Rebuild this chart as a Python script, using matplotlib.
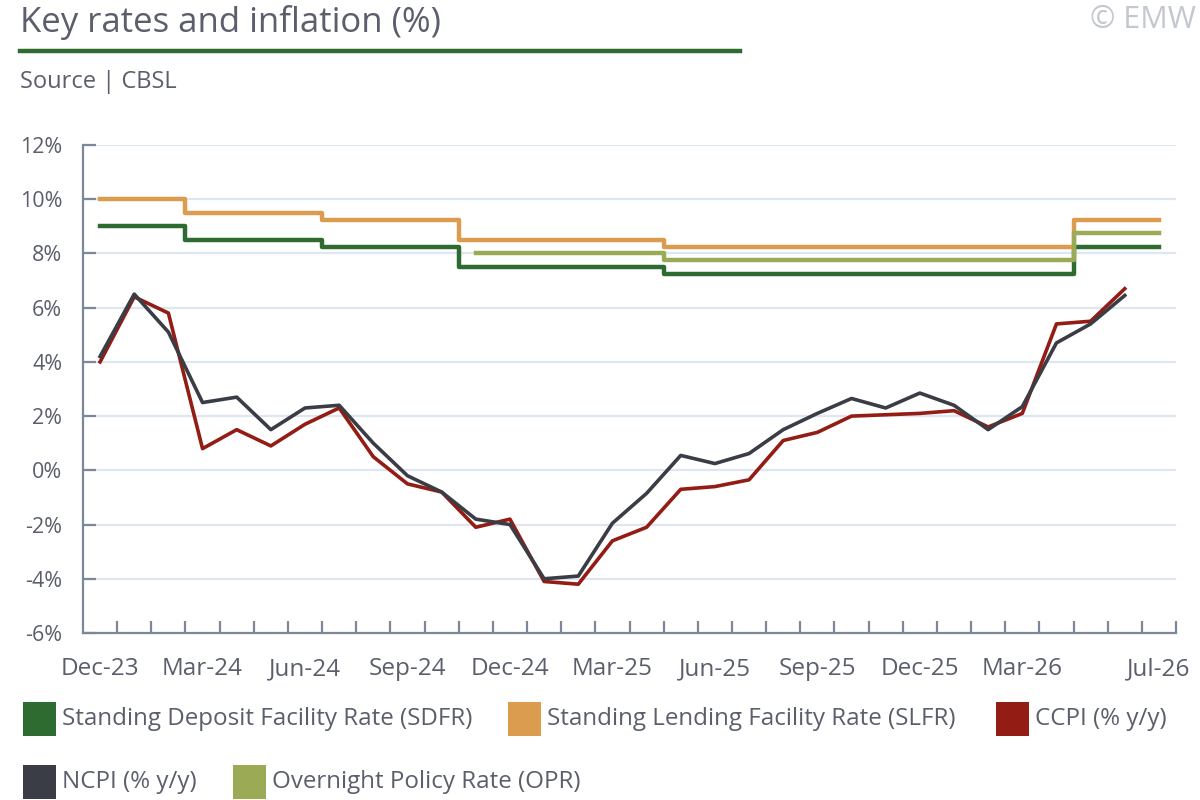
import numpy as np
import matplotlib
matplotlib.use("Agg")
import matplotlib.pyplot as plt
from matplotlib.patches import Rectangle
from matplotlib.lines import Line2D

plt.rcParams['font.family'] = ['Open Sans', 'DejaVu Sans']

# data (monthly, Dec-23 .. Jul-26)
months = ["Dec-23", "Jan-24", "Feb-24", "Mar-24", "Apr-24", "May-24", "Jun-24", "Jul-24",
          "Aug-24", "Sep-24", "Oct-24", "Nov-24", "Dec-24", "Jan-25", "Feb-25", "Mar-25",
          "Apr-25", "May-25", "Jun-25", "Jul-25", "Aug-25", "Sep-25", "Oct-25", "Nov-25",
          "Dec-25", "Jan-26", "Feb-26", "Mar-26", "Apr-26", "May-26", "Jun-26", "Jul-26"]
labels_shown = ["Dec-23", "Mar-24", "Jun-24", "Sep-24", "Dec-24", "Mar-25", "Jun-25",
                "Sep-25", "Dec-25", "Mar-26", "Jul-26"]

sdfr = [9.0, 9.0, 9.0, 8.5, 8.5, 8.5, 8.5, 8.25, 8.25, 8.25, 8.25, 7.5, 7.5, 7.5, 7.5, 7.5,
        7.5, 7.25, 7.25, 7.25, 7.25, 7.25, 7.25, 7.25, 7.25, 7.25, 7.25, 7.25, 7.25, 8.25, 8.25, 8.25]
slfr = [10.0, 10.0, 10.0, 9.5, 9.5, 9.5, 9.5, 9.25, 9.25, 9.25, 9.25, 8.5, 8.5, 8.5, 8.5, 8.5,
        8.5, 8.25, 8.25, 8.25, 8.25, 8.25, 8.25, 8.25, 8.25, 8.25, 8.25, 8.25, 8.25, 9.25, 9.25, 9.25]
opr = [None] * 11 + [8.0, 8.0, 8.0, 8.0, 8.0, 8.0, 7.75, 7.75, 7.75, 7.75, 7.75, 7.75, 7.75,
                     7.75, 7.75, 7.75, 7.75, 7.75, 8.75, 8.75, 8.75]
ccpi = [4.0, 6.4, 5.8, 0.8, 1.5, 0.9, 1.7, 2.3, 0.5, -0.5, -0.8, -2.1, -1.8, -4.1, -4.2, -2.6,
        -2.1, -0.7, -0.6, -0.35, 1.1, 1.4, 2.0, 2.05, 2.1, 2.2, 1.6, 2.1, 5.4, 5.5, 6.7, None]
ncpi = [4.2, 6.5, 5.1, 2.5, 2.7, 1.5, 2.3, 2.4, 1.0, -0.2, -0.8, -1.8, -2.0, -4.0, -3.9, -1.95,
        -0.85, 0.55, 0.25, 0.62, 1.5, 2.1, 2.65, 2.3, 2.85, 2.4, 1.5, 2.35, 4.7, 5.4, 6.45, None]

c_sdfr = "#2e6b30"
c_slfr = "#dc9c50"
c_ccpi = "#931d15"
c_ncpi = "#3a3d45"
c_opr = "#9aaa55"
c_text = "#5a5f6b"
c_axis = "#7c8799"
c_grid = "#dde6f1"

fig = plt.figure(figsize=(12, 8), dpi=100)
ax = fig.add_axes([83 / 1200, 1 - 633 / 800, 1093 / 1200, 488 / 800])

x = np.arange(len(months))


def arr(v):
    return np.array([np.nan if a is None else a for a in v], dtype=float)


for yv in range(-4, 13, 2):
    ax.axhline(yv, color=c_grid, lw=1.6, zorder=0)

ax.step(x, arr(sdfr), where='mid', color=c_sdfr, lw=3.2, zorder=3)
ax.step(x, arr(slfr), where='mid', color=c_slfr, lw=3.2, zorder=3)
ax.plot(x, arr(ccpi), color=c_ccpi, lw=2.6, zorder=4)
ax.plot(x, arr(ncpi), color=c_ncpi, lw=2.6, zorder=5)
o = arr(opr)
m = ~np.isnan(o)
ax.step(x[m], o[m], where='mid', color=c_opr, lw=3.2, zorder=3)

ax.set_xlim(-0.5, len(months) - 0.5)
ax.set_ylim(-6, 12)

for s in ['top', 'right']:
    ax.spines[s].set_visible(False)
for s in ['left', 'bottom']:
    ax.spines[s].set_color(c_axis)
    ax.spines[s].set_linewidth(1.6)

ax.set_yticks(range(-6, 13, 2))
ax.set_yticklabels([f"{v}%" for v in range(-6, 13, 2)])
ax.tick_params(axis='y', direction='in', length=9, width=1.6, color=c_axis,
               labelsize=15.5, labelcolor=c_text, pad=15)

ax.set_xticks([months.index(l) for l in labels_shown])
ax.set_xticklabels(labels_shown)
ax.tick_params(axis='x', which='major', length=0, labelsize=17.5, labelcolor=c_text, pad=17.5)
ax.set_xticks(np.arange(0.5, len(months), 1), minor=True)
ax.tick_params(axis='x', which='minor', direction='in', length=9, width=1.6, color=c_axis)

# header
fig.text(20 / 1200, 1 - 22 / 800, "Key rates and inflation (%)", fontsize=25,
         color=c_text, va='center', ha='left')
fig.add_artist(Line2D([20 / 1200, 740 / 1200], [1 - 51 / 800, 1 - 51 / 800],
                      color=c_sdfr, lw=3.2))
fig.text(20 / 1200, 1 - 82 / 800, "Source | CBSL", fontsize=17, color=c_text,
         va='center', ha='left')
fig.text(1196 / 1200, 1 - 20 / 800, "© EMW", fontsize=22, color="#c3c7ce",
         va='center', ha='right')

# legend
legend_items = [
    (23, 719, c_sdfr, "Standing Deposit Facility Rate (SDFR)"),
    (508, 719, c_slfr, "Standing Lending Facility Rate (SLFR)"),
    (996, 719, c_ccpi, "CCPI (% y/y)"),
    (23, 782, c_ncpi, "NCPI (% y/y)"),
    (233, 782, c_opr, "Overnight Policy Rate (OPR)"),
]
for px, py, col, lab in legend_items:
    fig.add_artist(Rectangle((px / 1200, 1 - (py + 17) / 800), 33 / 1200, 34 / 800,
                             transform=fig.transFigure, color=col, lw=0))
    fig.text((px + 39) / 1200, 1 - py / 800, lab, fontsize=17.4, color=c_text,
             va='center', ha='left')

fig.savefig("out.png", dpi=100)
